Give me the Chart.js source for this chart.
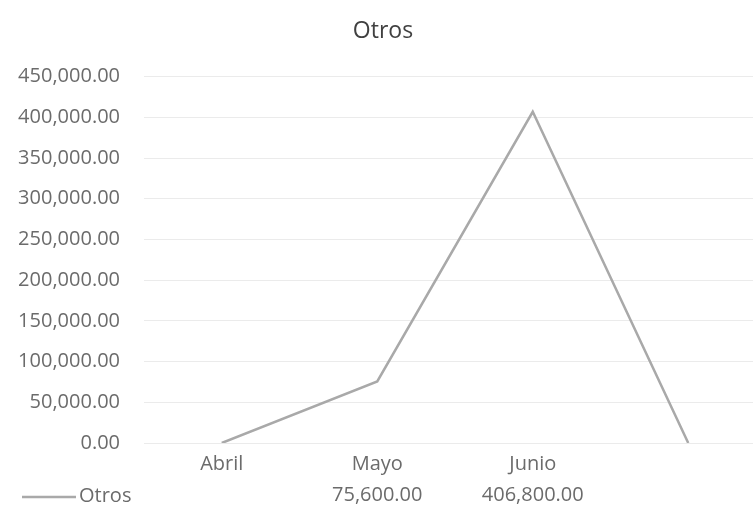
<!DOCTYPE html>
<html>
<head>
<meta charset="utf-8">
<script src="https://cdn.jsdelivr.net/npm/chart.js@4"></script>
<style>
    html, body { margin: 0; padding: 0; background: #fff; overflow: hidden; }
    #wrap { width: 766px; height: 513px; }
</style>
</head>
<body>
<div id="wrap"><canvas id="chart" width="766" height="513"></canvas></div>
<script>
// Chart data
const categories = ['Abril', 'Mayo', 'Junio', ''];
const otrosValues = [0, 75600, 406800, 0];
const yTicks = { min: 0, max: 450000, step: 50000 };
const seriesName = 'Otros';

const FONT = "'Open Sans', sans-serif";
const TEXT_GRAY = '#6b6b6b';
const LINE_GRAY = '#a9a9a9';

function fmt(v) {
    return v.toLocaleString('en-US', { minimumFractionDigits: 2, maximumFractionDigits: 2 });
}

// Data table row under the x axis (legend key + values)
const dataTablePlugin = {
    id: 'dataTable',
    afterDraw(chart) {
        const ctx = chart.ctx;
        const x = chart.scales.x;
        const rowY = 495;
        ctx.save();
        ctx.font = '20px ' + FONT;
        ctx.fillStyle = TEXT_GRAY;
        ctx.textBaseline = 'middle';
        ctx.textAlign = 'center';
        otrosValues.forEach((v, i) => {
            if (v) ctx.fillText(fmt(v), x.getPixelForValue(i), rowY);
        });
        // legend key
        ctx.strokeStyle = LINE_GRAY;
        ctx.lineWidth = 2.5;
        ctx.beginPath();
        ctx.moveTo(22, rowY + 2);
        ctx.lineTo(76, rowY + 2);
        ctx.stroke();
        ctx.textAlign = 'left';
        ctx.fillText(seriesName, 79, rowY + 1);
        ctx.restore();
    }
};

const chart = new Chart(document.getElementById('chart').getContext('2d'), {
    type: 'line',
    data: {
        labels: categories,
        datasets: [{
            label: seriesName,
            data: otrosValues,
            borderColor: LINE_GRAY,
            borderWidth: 2.5,
            pointRadius: 0,
            tension: 0,
            fill: false
        }]
    },
    options: {
        responsive: false,
        animation: false,
        layout: { padding: { top: 0, right: 0, bottom: 28, left: 0 } },
        plugins: {
            legend: { display: false },
            tooltip: { enabled: false },
            title: {
                display: true,
                text: 'Otros',
                color: '#404040',
                font: { family: FONT, size: 23, weight: 'normal' },
                padding: { top: 18, bottom: 31 }
            }
        },
        scales: {
            x: {
                offset: true,
                grid: { display: false, drawTicks: false },
                border: { display: false },
                ticks: {
                    color: TEXT_GRAY,
                    font: { family: FONT, size: 20 },
                    padding: 9,
                    maxRotation: 0,
                    autoSkip: false
                }
            },
            y: {
                min: yTicks.min,
                max: yTicks.max,
                grid: { color: '#ebebeb', lineWidth: 1, drawTicks: false },
                border: { display: false },
                ticks: {
                    stepSize: yTicks.step,
                    color: TEXT_GRAY,
                    font: { family: FONT, size: 20 },
                    padding: 24,
                    callback: v => fmt(v)
                },
                afterFit(scale) { scale.width = 144; }
            }
        }
    },
    plugins: [dataTablePlugin]
});
</script>
</body>
</html>
